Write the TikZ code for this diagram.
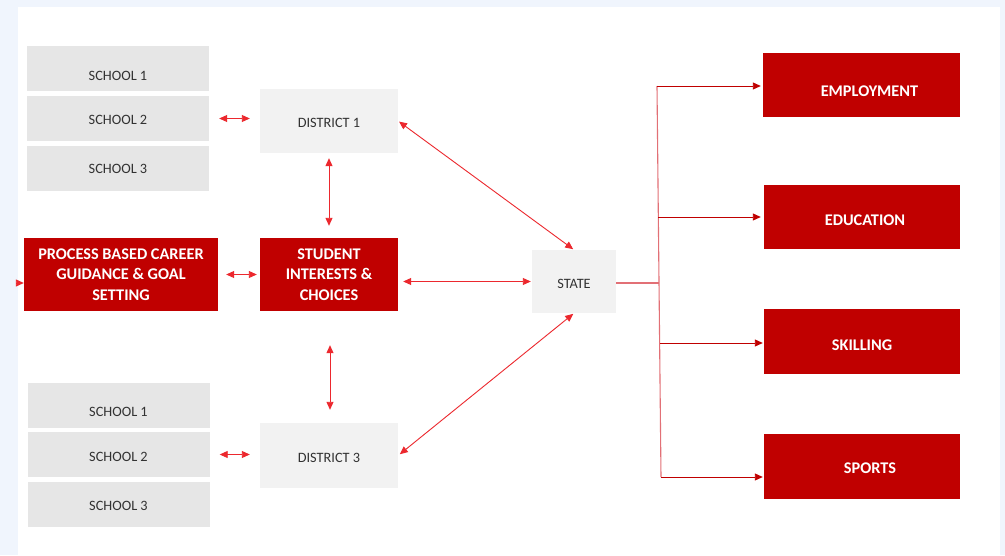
\documentclass[tikz,border=0pt]{standalone}
\usepackage{fontspec}
\setmainfont{Carlito}
\usetikzlibrary{arrows.meta}
\definecolor{bgblue}{RGB}{240,245,253}
\definecolor{darkred}{RGB}{192,0,0}
\definecolor{schoolgray}{RGB}{230,230,230}
\definecolor{distgray}{RGB}{242,242,242}
\definecolor{txtgray}{RGB}{50,50,50}
\definecolor{arrred}{RGB}{236,40,46}
\definecolor{trunkred}{RGB}{226,112,118}
\begin{document}
\begin{tikzpicture}[x=1pt,y=-1pt,
  school/.style={fill=schoolgray, minimum width=182pt, minimum height=45pt, inner sep=0pt, text=txtgray, font=\fontsize{14.3}{17}\selectfont},
  grayboxstyle/.style={fill=distgray, inner sep=0pt, text=txtgray, font=\fontsize{14.3}{17}\selectfont},
  redbox/.style={fill=darkred, inner sep=0pt, text=white, align=center, font=\bfseries\fontsize{16.3}{20.5}\selectfont},
  dbl/.style={draw=arrred, line width=0.9pt, {Triangle[length=8pt,width=7pt]}-{Triangle[length=8pt,width=7pt]}},
  single/.style={draw=arrred, line width=0.9pt, -{Triangle[length=8pt,width=7pt]}},
  branch/.style={draw=darkred, line width=0.9pt, -{Triangle[length=8pt,width=7pt]}},
  trunk/.style={draw=trunkred, line width=1.1pt}
]
\useasboundingbox (0,0) rectangle (1005,555);
\fill[bgblue] (0,0) rectangle (1005,555);
\fill[white] (18,7) rectangle (1000,555);

% schools top
\node[school] (s1a) at (118,68.5) {\raisebox{-7pt}[\height][\depth]{SCHOOL 1}};
\node[school] (s2a) at (118,118.5) {\raisebox{-1pt}[\height][\depth]{SCHOOL 2}};
\node[school] (s3a) at (118,168) {\raisebox{-1pt}[\height][\depth]{SCHOOL 3}};
% schools bottom
\node[school] (s1b) at (118.5,405) {\raisebox{-7pt}[\height][\depth]{SCHOOL 1}};
\node[school] (s2b) at (118.5,454.5) {\raisebox{-2pt}[\height][\depth]{SCHOOL 2}};
\node[school] (s3b) at (118.5,504.5) {\raisebox{-1pt}[\height][\depth]{SCHOOL 3}};

% districts, state
\node[grayboxstyle, minimum width=138pt, minimum height=64pt] (d1) at (329,121) {\raisebox{-2pt}[\height][\depth]{DISTRICT 1}};
\node[grayboxstyle, minimum width=138pt, minimum height=65pt] (d3) at (329,455.5) {\raisebox{-2pt}[\height][\depth]{DISTRICT 3}};
\node[grayboxstyle, minimum width=84pt, minimum height=63pt] (state) at (574,281.5) {\raisebox{-2pt}[\height][\depth]{STATE}};

% red boxes
\node[redbox, minimum width=194pt, minimum height=73pt] (pr) at (121,274.5) {PROCESS BASED CAREER\\GUIDANCE \& GOAL\\SETTING};
\node[redbox, minimum width=138pt, minimum height=73pt] (st) at (329,274.5) {STUDENT\\INTERESTS \&\\CHOICES};
\node[redbox, minimum width=197pt, minimum height=64pt] (emp) at (861.5,85) {\hspace{16pt}\raisebox{-6pt}[\height][\depth]{EMPLOYMENT}};
\node[redbox, minimum width=196pt, minimum height=64pt] (edu) at (862,217) {\hspace{6pt}\raisebox{-3pt}[\height][\depth]{EDUCATION}};
\node[redbox, minimum width=196pt, minimum height=65pt] (ski) at (862,341.5) {\raisebox{-4pt}[\height][\depth]{SKILLING}};
\node[redbox, minimum width=196pt, minimum height=65pt] (spo) at (862,466.5) {\hspace{16pt}\raisebox{-2pt}[\height][\depth]{SPORTS}};

% double arrows
\draw[dbl, shorten <=10pt, shorten >=10pt] (s2a.east) -- (s2a.east -| d1.west);
\draw[dbl, shorten <=10pt, shorten >=10pt] (s2b.east) -- (s2b.east -| d3.west);
\draw[dbl, shorten <=8pt, shorten >=3pt] (pr.east) -- (st.west);
\draw[dbl, shorten <=5pt, shorten >=12pt] (d1.south) -- (st.north);
\draw[dbl, shorten <=34pt, shorten >=13pt] ([xshift=1pt]st.south) -- ([xshift=1pt]d3.north);
\draw[dbl, shorten <=5pt, shorten >=1pt] (st.east |- state.west) -- (state.west);
\draw[dbl, shorten <=1pt, shorten >=1pt] (d1.east) -- (state.north);
\draw[dbl, shorten <=2pt, shorten >=1pt] (d3.east) -- (state.south);

% small incoming arrow at left edge
\coordinate (lin) at (17,283);
\draw[single] (lin) -- (lin -| pr.west);

% trunk to outcomes
\coordinate (tE) at (657,86);
\coordinate (tD) at (658,217);
\coordinate (tM) at (659,283);
\coordinate (tK) at (660,343);
\coordinate (tS) at (661,477);
\draw[trunk] (tE) -- (tS);
\draw[trunk] (state.east |- tM) -- (tM);
\draw[branch, shorten >=2pt] (tE) -- (tE -| emp.west);
\draw[branch, shorten >=3pt] (tD) -- (tD -| edu.west);
\draw[branch, shorten >=1pt] (tK) -- (tK -| ski.west);
\draw[branch, shorten >=1pt] (tS) -- (tS -| spo.west);
\end{tikzpicture}
\end{document}
